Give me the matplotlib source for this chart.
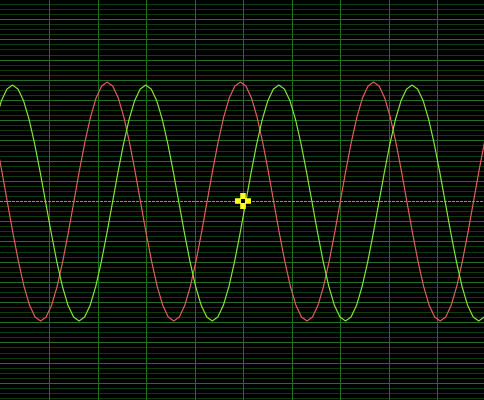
import numpy as np
import matplotlib
matplotlib.use("Agg")
import matplotlib.pyplot as plt

# ---- data (divisions) ----
sample_dt = 0.11443          # sample spacing, horizontal divisions
green_t0 = -5.102            # time of first green sample
red_t0 = -5.095              # time of first red sample

green_values = [
    4.03, 4.96, 5.54,
    5.74, 5.54, 4.96, 4.03, 2.82, 1.41, -0.10, -1.61, -3.02, -4.23, -5.16, -5.74,
    -5.94, -5.74, -5.16, -4.23, -3.02, -1.61, -0.10, 1.41, 2.82, 4.03, 4.96, 5.54,
    5.74, 5.54, 4.96, 4.03, 2.82, 1.41, -0.10, -1.61, -3.02, -4.23, -5.16, -5.74,
    -5.94, -5.74, -5.16, -4.23, -3.02, -1.61, -0.10, 1.41, 2.82, 4.03, 4.96, 5.54,
    5.74, 5.54, 4.96, 4.03, 2.82, 1.41, -0.10, -1.61, -3.02, -4.23, -5.16, -5.74,
    -5.94, -5.74, -5.16, -4.23, -3.02, -1.61, -0.10, 1.41, 2.82, 4.03, 4.96, 5.54,
    5.74, 5.54, 4.96, 4.03, 2.82, 1.41, -0.10, -1.61, -3.02, -4.23, -5.16, -5.74,
    -5.94, -5.74, -5.16,
]

red_values = [
    2.93, 1.51, -0.03, -1.56, -2.98, -4.21, -5.15, -5.74, -5.94, -5.74,
    -5.15, -4.21, -2.98, -1.56, -0.03, 1.51, 2.93, 4.16, 5.10, 5.69,
    5.89, 5.69, 5.10, 4.16, 2.93, 1.51, -0.03, -1.56, -2.98, -4.21, -5.15, -5.74,
    -5.94, -5.74, -5.15, -4.21, -2.98, -1.56, -0.03, 1.51, 2.93, 4.16, 5.10, 5.69,
    5.89, 5.69, 5.10, 4.16, 2.93, 1.51, -0.03, -1.56, -2.98, -4.21, -5.15, -5.74,
    -5.94, -5.74, -5.15, -4.21, -2.98, -1.56, -0.03, 1.51, 2.93, 4.16, 5.10, 5.69,
    5.89, 5.69, 5.10, 4.16, 2.93, 1.51, -0.03, -1.56, -2.98, -4.21, -5.15, -5.74,
    -5.94, -5.74, -5.15, -4.21, -2.98, -1.56, -0.03, 1.51, 2.93, 4.16,
]

cursor_x = [0.0]
cursor_y = [0.0]

v_grid = [-4, -3, -2, -1, 0, 1, 2, 3, 4]
h_major = [-9, -8, -7, -6, -5, -4, -3, -2, -1, 1, 2, 3, 4, 5, 6, 7, 8, 9]

# ---- figure ----
fig = plt.figure(figsize=(4.84, 4.00), dpi=100, facecolor="black")
ax = fig.add_axes([0, 0, 1, 1])
ax.set_facecolor("black")
ax.set_xlim(-5.016, 4.963)
ax.set_ylim(-9.85, 9.95)
ax.axis("off")

# minor horizontal lines every quarter division
minor = [k / 4 for k in range(-39, 40) if k % 4 != 0]
for y in minor:
    ax.axhline(y, color="#0e3c0e", lw=0.72, antialiased=False, zorder=1)
for y in h_major:
    ax.axhline(y, color="#23702a", lw=0.72, antialiased=False, zorder=2)
for x in v_grid:
    ax.axvline(x, color="#217021", lw=0.72, antialiased=False, zorder=2)
ax.axhline(0, color="#30cc30", lw=0.8, ls=(0, (2.16, 1.44)),
           antialiased=False, zorder=3)

gx = green_t0 + sample_dt * np.arange(len(green_values))
rx = red_t0 + sample_dt * np.arange(len(red_values))
ax.plot(rx, red_values, color="#e4605c", lw=0.85, zorder=4)
ax.plot(gx, green_values, color="#84e83c", lw=0.85, zorder=5)

ax.plot(cursor_x, cursor_y, marker="+", ms=11, mew=4.0, color="#ffff20",
        linestyle="none", zorder=6)
ax.plot(cursor_x, cursor_y, marker="s", ms=2.6, mew=0, color="black",
        linestyle="none", zorder=7)

fig.savefig("out.png", dpi=100, facecolor="black")
